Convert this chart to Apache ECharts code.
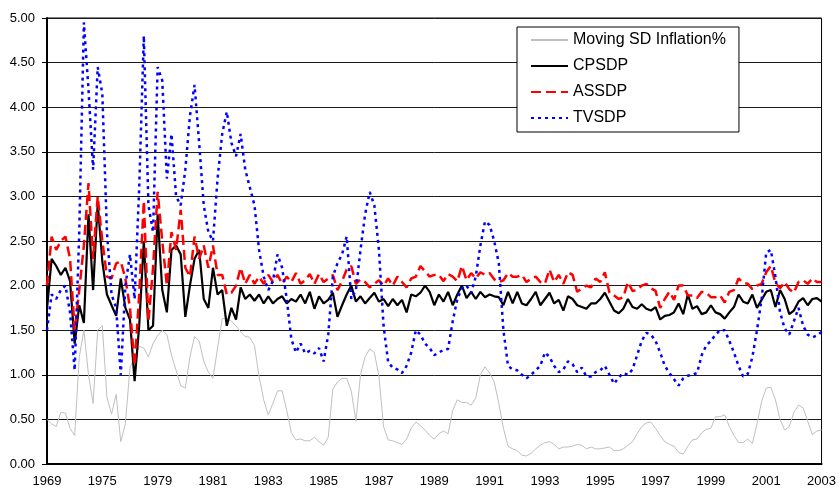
<!DOCTYPE html>
<html>
<head>
<meta charset="utf-8">
<style>
html,body{margin:0;padding:0;background:#fff;}
#chart{width:839px;height:492px;}
</style>
<script src="https://cdn.jsdelivr.net/npm/echarts@6/dist/echarts.min.js"></script>
</head>
<body>
<div id="chart"></div>
<script>
const tickLabels = ['1969','1975','1979','1981','1983','1985','1987','1989','1991','1993','1995','1997','1999','2001','2003'];
const stepsPerLabel = 12;

const movingSD = [
0.50,0.45,0.42,0.58,0.57,0.40,0.32,1.20,1.50,1.00,0.68,1.50,1.55,0.75,0.56,0.78,0.25,0.45,1.08,1.20,1.32,1.30,1.20,1.35,1.44,1.50,1.45,1.22,
1.05,0.88,0.85,1.20,1.43,1.38,1.15,1.03,0.96,1.30,1.63,1.63,1.60,1.55,1.48,1.43,1.42,1.33,0.98,0.72,0.55,0.68,0.82,0.82,0.60,0.35,0.27,0.28,
0.26,0.26,0.30,0.25,0.21,0.30,0.84,0.92,0.96,0.96,0.82,0.48,1.00,1.20,1.29,1.25,0.98,0.42,0.27,0.26,0.24,0.22,0.28,0.40,0.47,0.43,0.38,0.32,0.28,
0.34,0.37,0.34,0.60,0.72,0.69,0.69,0.66,0.74,1.00,1.09,1.02,0.92,0.68,0.40,0.20,0.17,0.15,0.10,0.09,0.12,0.17,0.21,0.24,0.25,0.22,0.17,0.19,
0.19,0.20,0.22,0.21,0.17,0.19,0.17,0.17,0.18,0.19,0.15,0.15,0.17,0.21,0.25,0.34,0.42,0.46,0.47,0.40,0.32,0.25,0.22,0.20,0.13,0.11,0.20,0.27,
0.28,0.35,0.39,0.40,0.53,0.53,0.55,0.42,0.32,0.24,0.24,0.28,0.23,0.45,0.70,0.85,0.86,0.72,0.50,0.38,0.42,0.58,0.66,0.63,0.48,0.33,0.37,0.38
];

const cpsdp = [
1.74,2.30,2.22,2.12,2.20,2.05,1.35,1.78,1.58,2.80,1.95,2.92,2.27,1.90,1.78,1.66,2.08,1.75,1.62,0.93,1.55,2.50,1.50,1.55,2.80,1.95,1.70,2.40,
2.45,2.35,1.65,2.00,2.30,2.40,1.85,1.75,2.20,1.90,1.95,1.55,1.75,1.62,1.98,1.85,1.90,1.83,1.90,1.80,1.88,1.80,1.85,1.88,1.80,1.85,1.82,1.90,
1.80,1.93,1.74,1.88,1.80,1.84,1.92,1.65,1.78,1.90,2.00,1.82,1.88,1.80,1.86,1.92,1.82,1.85,1.77,1.85,1.78,1.84,1.70,1.90,1.88,1.92,2.00,1.93,1.78,
1.90,1.82,1.93,1.78,1.90,2.00,1.86,1.93,1.85,1.93,1.87,1.90,1.88,1.87,1.78,1.93,1.80,1.93,1.80,1.78,1.85,1.93,1.78,1.85,1.92,1.80,1.84,1.72,
1.88,1.85,1.78,1.76,1.74,1.80,1.80,1.85,1.92,1.82,1.72,1.69,1.74,1.85,1.76,1.74,1.79,1.74,1.72,1.76,1.62,1.66,1.67,1.70,1.80,1.68,1.90,1.74,
1.77,1.68,1.70,1.78,1.70,1.68,1.63,1.70,1.76,1.90,1.82,1.80,1.90,1.75,1.84,1.93,1.95,1.76,1.95,1.85,1.68,1.72,1.82,1.86,1.78,1.85,1.86,1.82
];

const assdp = [
2.00,2.55,2.40,2.50,2.55,2.30,1.50,1.95,2.45,3.15,2.30,3.00,2.50,2.10,2.08,2.25,2.27,2.08,1.75,1.10,1.90,2.95,1.60,2.20,3.05,2.50,2.00,2.60,
2.40,2.85,2.20,2.10,2.55,2.30,2.45,2.20,2.45,2.12,2.12,1.90,1.92,2.00,2.20,2.02,2.12,2.02,2.10,2.02,2.12,2.04,2.12,2.02,2.10,2.04,2.14,2.02,
2.06,2.13,2.02,2.13,2.04,2.08,2.12,1.95,2.05,2.18,2.22,2.02,2.07,2.04,1.98,2.02,2.06,2.00,2.08,2.00,2.10,2.04,1.98,2.08,2.10,2.22,2.16,2.10,2.12,
2.12,2.05,2.13,2.10,2.05,2.22,2.06,2.14,2.08,2.15,2.12,2.14,2.07,2.04,2.06,2.14,2.10,2.10,2.12,2.04,2.08,2.10,2.04,2.02,2.18,2.04,2.12,2.02,
2.15,2.12,1.93,1.97,2.00,1.98,2.08,2.04,2.15,1.92,1.89,1.85,1.87,2.04,1.94,1.95,2.00,2.02,1.97,1.94,1.75,1.85,1.93,1.84,2.00,2.00,1.89,1.89,
1.86,1.93,1.92,1.87,1.87,1.89,1.81,1.93,1.95,2.08,2.03,2.02,1.96,2.00,2.02,2.15,2.22,2.03,1.97,2.04,1.96,1.92,2.04,2.06,2.02,2.08,2.04,2.04
];

const tvsdp = [
1.50,1.90,1.85,1.95,2.00,1.70,1.05,2.60,4.95,4.20,3.30,4.45,4.15,2.60,1.90,1.75,1.00,2.00,2.35,1.85,3.10,4.80,2.90,2.60,4.45,4.30,3.20,3.70,
3.00,2.90,3.30,3.90,4.25,3.60,2.90,2.60,2.50,3.20,3.70,3.95,3.60,3.45,3.70,3.30,3.10,2.90,2.40,2.10,1.95,2.05,2.35,2.20,1.85,1.40,1.25,1.35,
1.24,1.27,1.24,1.30,1.15,1.45,2.10,2.25,2.35,2.55,1.85,1.95,2.40,2.80,3.05,2.90,2.40,1.55,1.14,1.08,1.06,1.02,1.10,1.25,1.50,1.45,1.35,1.30,1.22,
1.25,1.28,1.29,1.60,1.85,1.97,2.00,1.92,2.10,2.45,2.72,2.68,2.50,2.25,1.50,1.10,1.06,1.05,1.00,0.96,1.00,1.05,1.10,1.25,1.20,1.10,1.03,1.06,
1.15,1.12,1.03,1.08,0.98,0.98,1.03,1.05,1.10,1.00,0.90,0.97,1.02,1.00,1.06,1.22,1.38,1.47,1.45,1.38,1.25,1.10,1.02,0.95,0.88,0.96,0.99,1.00,
1.02,1.22,1.33,1.38,1.45,1.50,1.50,1.38,1.25,1.10,0.98,1.01,1.20,1.50,1.85,2.37,2.40,2.10,1.70,1.52,1.45,1.60,1.75,1.55,1.45,1.42,1.44,1.48
];

const seriesNames = ['Moving SD Inflation%','CPSDP','ASSDP','TVSDP'];

const categories = [];
for (let i = 0; i < (tickLabels.length - 1) * stepsPerLabel + 1; i++) {
  categories.push(tickLabels[Math.floor(i / stepsPerLabel)] + '/' + (i % stepsPerLabel + 1));
}

const FONT = 'Liberation Sans, Arial, sans-serif';
const chart = echarts.init(document.getElementById('chart'), null, {renderer: 'canvas'});
chart.setOption({
  animation: false,
  backgroundColor: '#ffffff',
  textStyle: {fontFamily: FONT},
  grid: {left: 47, right: 17, top: 18, bottom: 28, show: true, borderColor: '#000', borderWidth: 1, backgroundColor: 'transparent'},
  legend: {
    orient: 'vertical',
    left: 517, top: 27,
    padding: [5, 13, 6, 13],
    itemWidth: 37, itemHeight: 16, itemGap: 10,
    backgroundColor: '#ffffff',
    borderColor: '#000', borderWidth: 1,
    itemStyle: {opacity: 0, borderWidth: 0},
    textStyle: {fontFamily: FONT, fontSize: 16, color: '#000', lineHeight: 16},
    data: seriesNames
  },
  xAxis: {
    type: 'category',
    data: categories,
    boundaryGap: false,
    axisLine: {lineStyle: {color: '#000', width: 2}},
    axisTick: {show: false},
    axisLabel: {interval: stepsPerLabel - 1, formatter: v => v.split('/')[0], color: '#000', fontSize: 13, margin: 11, fontFamily: FONT},
    splitLine: {show: false}
  },
  yAxis: {
    type: 'value',
    min: 0, max: 5, interval: 0.5,
    axisLine: {show: true, lineStyle: {color: '#000', width: 2}},
    axisTick: {show: true, length: 5, lineStyle: {color: '#000'}},
    axisLabel: {formatter: v => v.toFixed(2), color: '#000', fontSize: 13, margin: 12, fontFamily: FONT},
    splitLine: {show: true, lineStyle: {color: '#1a1a1a', width: 1}}
  },
  series: [
    {name: seriesNames[0], type: 'line', data: movingSD, symbol: 'none', lineStyle: {color: '#c0c0c0', width: 1}, itemStyle: {color: '#c0c0c0'}},
    {name: seriesNames[1], type: 'line', data: cpsdp, symbol: 'none', lineStyle: {color: '#000000', width: 2.2}, itemStyle: {color: '#000000'}},
    {name: seriesNames[2], type: 'line', data: assdp, symbol: 'none', lineStyle: {color: '#ff0000', width: 2.5, type: [10, 5]}, itemStyle: {color: '#ff0000'}},
    {name: seriesNames[3], type: 'line', data: tvsdp, symbol: 'none', lineStyle: {color: '#0000ff', width: 2.5, type: [3, 4]}, itemStyle: {color: '#0000ff'}}
  ]
});
</script>
</body>
</html>
